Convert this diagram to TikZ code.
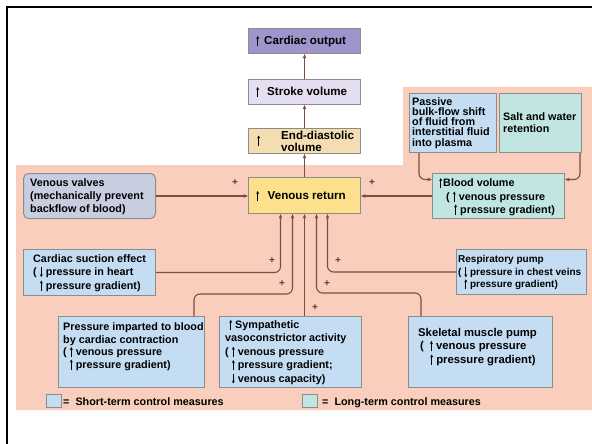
\documentclass[tikz,border=0pt]{standalone}
\usepackage{fontspec}
\setmainfont{Liberation Sans}
\usetikzlibrary{arrows.meta,calc}
\definecolor{pinkbg}{HTML}{F9CEBD}
\definecolor{ltblue}{HTML}{C5DDF3}
\definecolor{ltteal}{HTML}{C1E6E2}
\definecolor{cofill}{HTML}{9D95CC}
\definecolor{svfill}{HTML}{E4DEF0}
\definecolor{edfill}{HTML}{F4DDB2}
\definecolor{vrfill}{HTML}{FCE08C}
\definecolor{vvfill}{HTML}{C8CEDF}
\definecolor{boxline}{HTML}{8C8C8C}
\definecolor{connc}{HTML}{7D4E3E}
\definecolor{plusc}{HTML}{5A3A30}
\newcommand{\upa}{\tikz[baseline=0pt,x=1pt,y=1pt]{\draw[line width=0.75pt,-{Stealth[length=3pt,width=3pt]}] (0,-1.5)--(0,8.5);}}
\newcommand{\dna}{\tikz[baseline=0pt,x=1pt,y=1pt]{\draw[line width=0.75pt,-{Stealth[length=3pt,width=3pt]}] (0,8.5)--(0,-1.5);}}
\begin{document}
\begin{tikzpicture}[x=1pt,y=-1pt,
  font=\fontsize{10.8}{12.8}\selectfont\bfseries,
  box/.style={draw=boxline, line width=1pt, anchor=north west, inner sep=0pt},
  txt/.style={anchor=base west, align=left, inner sep=0pt, text=black},
  big/.style={font=\fontsize{11.6}{13}\selectfont\bfseries},
  conn/.style={draw=connc, line width=1.1pt, rounded corners=6pt, -{Stealth[length=4.5pt,width=3.6pt]}},
  plus/.style={text=plusc, font=\fontsize{10}{10}\selectfont\bfseries, inner sep=0pt}]
\useasboundingbox (0,0) rectangle (592,444);
% background
\fill[pinkbg] (16,165) -- (403,165) -- (403,87) -- (592,87) -- (592,410) -- (16,410) -- cycle;
\draw[line width=2.5pt] (7,444) -- (7,7) -- (592,7);
% boxes
\node[box, fill=cofill, minimum width=112pt, minimum height=25pt] (co) at (248,28) {};
\node[box, fill=svfill, minimum width=112pt, minimum height=25pt] (sv) at (248,79) {};
\node[box, fill=edfill, minimum width=112pt, minimum height=25pt] (ed) at (248,128) {};
\node[box, fill=vrfill, minimum width=112pt, minimum height=36pt] (vr) at (248,177) {};
\node[box, fill=vvfill, rounded corners=5pt, minimum width=132pt, minimum height=45pt] (vv) at (23,173) {};
\node[box, fill=ltblue, minimum width=132pt, minimum height=46pt] (cs) at (23,249) {};
\node[box, fill=ltblue, minimum width=130pt, minimum height=45pt] (rp) at (456,249) {};
\node[box, fill=ltteal, minimum width=132pt, minimum height=45pt] (bv) at (432,173) {};
\node[box, fill=ltblue, minimum width=87pt, minimum height=59pt] (pas) at (409,93) {};
\node[box, fill=ltteal, minimum width=82pt, minimum height=59pt] (salt) at (499,93) {};
\node[box, fill=ltblue, minimum width=146pt, minimum height=71pt] (pi) at (58,316) {};
\node[box, fill=ltblue, minimum width=142pt, minimum height=71pt] (sym) at (219,316) {};
\node[box, fill=ltblue, minimum width=144pt, minimum height=71pt] (sk) at (408,316) {};
\node[box, fill=ltblue, minimum width=15pt, minimum height=13pt] (lg1) at (46,394) {};
\node[box, fill=ltteal, minimum width=15pt, minimum height=13pt] (lg2) at (302,394) {};
% texts (anchor = baseline of the last line)
\node[txt, big] (co-t) at (256,44.5) {\upa\hspace{5pt}Cardiac output};
\node[txt, big] (sv-t) at (256,95.5) {\upa\hspace{8pt}Stroke volume};
\node[txt] (ed-a) at (257,144) {\upa};
\node[txt, big] (ed-t) at (281,151) {End-diastolic\\[-1.5pt]volume};
\node[txt, big] (vr-t) at (256,199.5) {\upa\hspace{8.5pt}Venous return};
\node[txt] (vv-t) at (30,212) {Venous valves\\(mechanically prevent\\backflow of blood)};
\node[txt] (cs-t) at (33,289) {Cardiac suction effect\\[0.6pt]( \dna\ pressure in heart\\[0.6pt]\phantom{( }\upa\ pressure gradient)};
\node[txt, font=\fontsize{10}{12.6}\selectfont\bfseries] (rp-t) at (458,287.8) {Respiratory pump\\[0.6pt]( \dna\ pressure in chest veins\\[-0.6pt]\phantom{( }\upa\ pressure gradient)};
\node[txt] (bv-t) at (439,213) {\upa\hspace{1pt}Blood volume\\[0.6pt]\hspace{7pt}( \upa\ venous pressure\\[0.2pt]\hspace{15pt}\upa\ pressure gradient)};
\node[txt, font=\fontsize{10.8}{10.1}\selectfont\bfseries] (pas-t) at (412,146) {Passive\\bulk-flow shift\\of fluid from\\interstitial fluid\\into plasma};
\node[txt] (salt-t) at (503,132) {Salt and water\\[-0.8pt]retention};
\node[txt] (pi-t) at (63,368) {Pressure imparted to blood\\[-0.4pt]by cardiac contraction\\[-0.4pt]( \upa\ venous pressure\\[-0.4pt]\phantom{( }\upa\ pressure gradient)};
\node[txt] (sym-t) at (225,382) {\hspace{4pt}\upa\ Sympathetic\\[0.6pt]vasoconstrictor activity\\[0.6pt]( \upa\ venous pressure\\[0.6pt]\phantom{( }\upa\ pressure gradient;\\[0.6pt]\phantom{( }\dna\ venous capacity)};
\node[txt, font=\fontsize{11.3}{13.5}\selectfont\bfseries] (sk-t) at (418,363) {Skeletal muscle pump\\\hspace{2pt}(\hspace{6pt}\upa\ venous pressure\\\hspace{12pt}\upa\ pressure gradient)};
\node[txt] (lg1-t) at (63,405) {=\hspace{6pt}Short-term control measures};
\node[txt] (lg2-t) at (322,405) {=\hspace{6pt}Long-term control measures};
% connectors
\draw[conn] (sv.north) -- (co.south);
\draw[conn] (ed.north) -- (sv.south);
\draw[conn] (vr.north) -- (ed.south);
\draw[conn] (vv.east) -- (vv.east -| vr.west);
\draw[conn] (bv.west) -- (bv.west -| vr.east);
\draw[conn] ($(pas.south west)+(10,0)$) |- ($(bv.west)+(0,-16.5)$);
\draw[conn] ($(salt.south east)+(-2,0)$) |- ($(bv.east)+(0,-16.5)$);
\draw[conn] (cs.east) -| ($(vr.south)+(-24,0)$);
\draw[conn] ($(pi.north east)+(-11,0)$) -- ++(0,-22) -| ($(vr.south)+(-12,0)$);
\draw[conn] (vr.south |- sym.north) -- (vr.south);
\draw[conn] ($(sk.north west)+(13,0)$) -- ++(0,-23) -| ($(vr.south)+(12,0)$);
\draw[conn] (rp.west) -| ($(vr.south)+(23,0)$);
% plus signs
\node[plus] (p1) at (235,183) {+};
\node[plus] (p2) at (372,183) {+};
\node[plus] (p3) at (272,261) {+};
\node[plus] (p4) at (282,284) {+};
\node[plus] (p5) at (315,308) {+};
\node[plus] (p6) at (327,284) {+};
\node[plus] (p7) at (338,261) {+};
\end{tikzpicture}
\end{document}
